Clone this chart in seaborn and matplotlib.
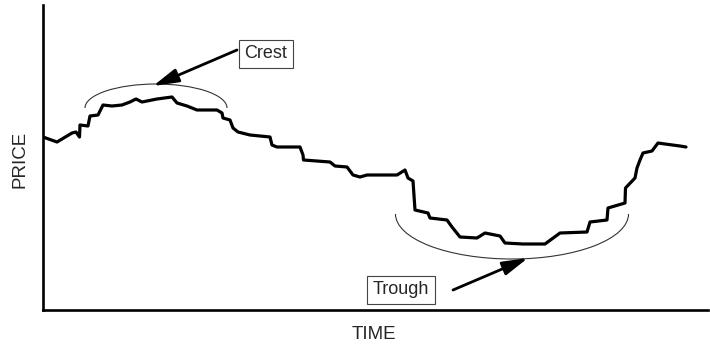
import matplotlib
matplotlib.use("Agg")
import matplotlib.pyplot as plt
from matplotlib.patches import Arc
import numpy as np
import pandas as pd
import seaborn as sns

# Price path over time (arbitrary units)
time = [0, 14, 29, 33, 36.5, 37, 45, 47, 55, 60, 69, 79, 87, 93, 99, 114, 129, 134,
        144, 154, 174, 179, 180, 187, 190, 195, 207, 227, 229, 234, 257, 260, 260.5,
        287, 292, 304, 310, 317, 324, 354, 362, 365, 370, 372, 385, 387, 404, 409, 417,
        434, 442, 457, 462, 480, 502, 517, 544, 547, 564, 565, 582, 582.5, 592, 594,
        597, 600, 609, 615, 622, 637, 643]
price = [173, 168, 177, 178, 173, 185, 184, 194, 195, 205, 204, 205, 208, 211, 208,
         211, 213, 207, 204, 200, 200, 197, 192, 190, 182, 178, 175, 173, 165, 163,
         163, 155, 150, 148, 144, 143, 135, 133, 135, 135, 140, 132, 129, 100, 97, 92,
         90, 83, 73, 72, 77, 74, 67, 66, 66, 77, 78, 88, 90, 102, 107, 122, 132, 142,
         150, 157, 159, 167, 166, 164, 163]

df = pd.DataFrame({"TIME": time, "PRICE": price})

sns.set_style("white")
plt.rcParams["font.family"] = ["Liberation Sans", "DejaVu Sans"]

fig = plt.figure(figsize=(7.10, 3.47), dpi=100)
ax = fig.add_axes([43 / 710, 37 / 347, 665 / 710, 305 / 347])

sns.lineplot(data=df, x="TIME", y="PRICE", sort=False, estimator=None,
             color="black", linewidth=2.3, ax=ax)

ax.set_xlim(0, 665)
ax.set_ylim(0, 305)
ax.set_xticks([])
ax.set_yticks([])
for side in ("top", "right"):
    ax.spines[side].set_visible(False)
for side in ("left", "bottom"):
    ax.spines[side].set_color("black")
    ax.spines[side].set_linewidth(1.9)

ax.set_xlabel("TIME", fontsize=13.5)
ax.set_ylabel("PRICE", fontsize=13.5)
ax.xaxis.set_label_coords(0.498, -0.052)
ax.yaxis.set_label_coords(-0.022, 0.495)

# Crest and trough outlines
ax.add_patch(Arc((113, 202), 142, 48, theta1=0, theta2=180,
                 color="#333333", linewidth=0.8))
ax.add_patch(Arc((469, 96), 233, 90, theta1=180, theta2=360,
                 color="#333333", linewidth=0.8))

box = dict(boxstyle="square,pad=0.32", facecolor="white",
           edgecolor="#444444", linewidth=0.8)
head = "-|>,head_length=1.1,head_width=0.3"
arrow = dict(arrowstyle=head, color="black", lw=2,
             mutation_scale=14, shrinkA=0, shrinkB=0)

ax.text(223, 256, "Crest", fontsize=13, ha="center", va="center", bbox=box)
ax.annotate("", xy=(110, 224), xytext=(194, 260), arrowprops=arrow)

ax.text(358, 20, "Trough", fontsize=13, ha="center", va="center", bbox=box)
ax.annotate("", xy=(485, 52), xytext=(410, 20), arrowprops=arrow)

fig.savefig("out.png", dpi=100)
